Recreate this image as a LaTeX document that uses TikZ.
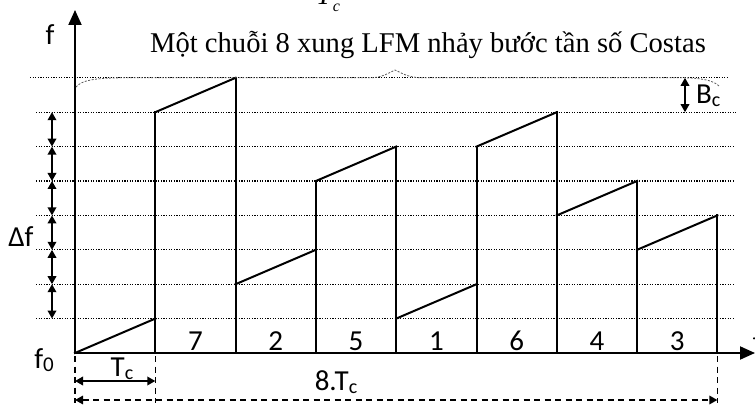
\documentclass[tikz,border=0pt]{standalone}
\usepackage{fontspec}
\setmainfont{Liberation Serif}
\newfontfamily\lblfont{Carlito}
\usetikzlibrary{arrows.meta}
\begin{document}
\begin{tikzpicture}[x=1pt,y=-1pt,
  pulse/.style={line width=2pt, line join=miter, line cap=rect},
  gridline/.style={line width=1.1pt, dash pattern=on 1.1pt off 1.5pt},
  axis/.style={line width=2pt, -{Triangle[length=15pt,width=13pt]}},
  dbl/.style={line width=1.8pt, {Triangle[length=8pt,width=8.5pt]}-{Triangle[length=8pt,width=8.5pt]}},
  dashdbl/.style={line width=1.6pt, dash pattern=on 6pt off 4.5pt, {Triangle[length=8pt,width=8.5pt]}-{Triangle[length=8pt,width=8.5pt]}},
  dashv/.style={line width=1.6pt, dash pattern=on 6pt off 4.5pt},
  bracecurve/.style={line width=0.8pt, black!65, dash pattern=on 2pt off 1.5pt},
  lbl/.style={font=\lblfont\fontsize{29}{30}\selectfont, inner sep=0pt},
  cell/.style={font=\lblfont\fontsize{29}{30}\selectfont, inner sep=0pt, anchor=base}
]
\useasboundingbox (0,0) rectangle (755,406);

% grid coordinates
\foreach \i in {0,...,8}{
  \foreach \k in {0,...,8}{
    \coordinate (g\i-\k) at ({75+\i*80.3},{353-\k*34.4});
  }
}

% dotted frequency lines
\foreach \k/\xa/\xb in {1/36/733,2/36/733,3/36/733,4/36/733,5/36/733,6/36/733,7/36/736,8/30/727}{
  \coordinate (ha\k) at (\xa,{353-\k*34.4});
  \coordinate (hb\k) at (\xb,{353-\k*34.4});
  \draw[gridline] (ha\k) -- (hb\k);
}

% axes
\coordinate (O) at (75,353);
\coordinate (ftop) at (75,10);
\coordinate (tend) at (755,353);
\draw[axis] (O) -- (ftop);
\draw[axis] (O) -- (tend);

% pulses (Costas code 0,7,2,5,1,6,4,3)
\foreach \i/\c [evaluate=\i as \j using int(\i+1), evaluate=\c as \d using int(\c+1)] in {0/0,1/7,2/2,3/5,4/1,5/6,6/4,7/3}{
  \draw[pulse] (g\i-\c) -- (g\j-\d);
}
\foreach \i/\m in {1/7,2/8,3/5,4/6,5/6,6/7,7/5,8/4}{
  \draw[pulse] (g\i-0) -- (g\i-\m);
}

% cell numbers
\foreach \i/\n in {1/7,2/2,3/5,4/1,5/6,6/4,7/3}{
  \node[cell] (num\i) at ({75+\i*80.3+40.15},350.5) {\n};
}

% delta f arrows
\foreach \k [evaluate=\k as \kk using int(\k+1)] in {1,...,6}{
  \coordinate (da\k) at (52,{353-\k*34.4});
  \coordinate (db\k) at (52,{353-\kk*34.4});
  \draw[dbl] (da\k) -- (db\k);
}
\node[lbl] (df) at (21,237) {Δf};

% Bc arrow
\coordinate (bca) at (685,{353-7*34.4});
\coordinate (bcb) at (685,{353-8*34.4});
\draw[dbl] (bca) -- (bcb);
\node[lbl, anchor=base west] (bc) at (696,104) {B\raisebox{-3pt}{\fontsize{20}{22}\selectfont c}};

% brace over top
\draw[bracecurve] (76,87) .. controls (82,80) and (95,78.3) .. (120,77.8) -- (372,77.8)
  .. controls (384,77) and (390,72) .. (395,70) .. controls (400,72) and (406,77) .. (420,77.8)
  -- (683,77.8) .. controls (700,78) and (713,80) .. (719,86);

% labels
\node[lbl] (flbl) at (50,35) {f};
\node[lbl, anchor=base] (f0) at (44,368) {f\raisebox{-3pt}{\fontsize{21}{22}\selectfont 0}};
\node[lbl, anchor=base west] (tlbl) at (752.5,351) {t};
\node[font=\fontsize{28.6}{30}\selectfont, inner sep=0pt, anchor=base] (title) at (428,53)
  {Một chuỗi 8 xung LFM nhảy bước tần số Costas};
\node[inner sep=0pt, anchor=base west] (tctop) at (316,5)
  {\fontsize{28}{30}\selectfont\itshape T\kern1pt\raisebox{-7pt}{\fontsize{16}{18}\selectfont c}};

% time dimensions
\coordinate (v0a) at (75,356);  \coordinate (v0b) at (75,403);
\coordinate (v1a) at (155.3,356); \coordinate (v1b) at (155.3,403);
\coordinate (v8a) at (717.4,356); \coordinate (v8b) at (717.4,403);
\draw[dashv] (v0a) -- (v0b);
\draw[dashv] (v1a) -- (v1b);
\draw[dashv] (v8a) -- (v8b);
\coordinate (tca) at (75,381); \coordinate (tcb) at (155.3,381);
\draw[dbl] (tca) -- (tcb);
\coordinate (ta) at (75,400); \coordinate (tb) at (717.4,400);
\draw[dashdbl] (ta) -- (tb);
\node[lbl, anchor=base] (tc) at (122,376) {T\raisebox{-3pt}{\fontsize{20}{22}\selectfont c}};
\node[lbl, anchor=base] (t8) at (336,390) {8.T\raisebox{-3pt}{\fontsize{20}{22}\selectfont c}};
\end{tikzpicture}
\end{document}
